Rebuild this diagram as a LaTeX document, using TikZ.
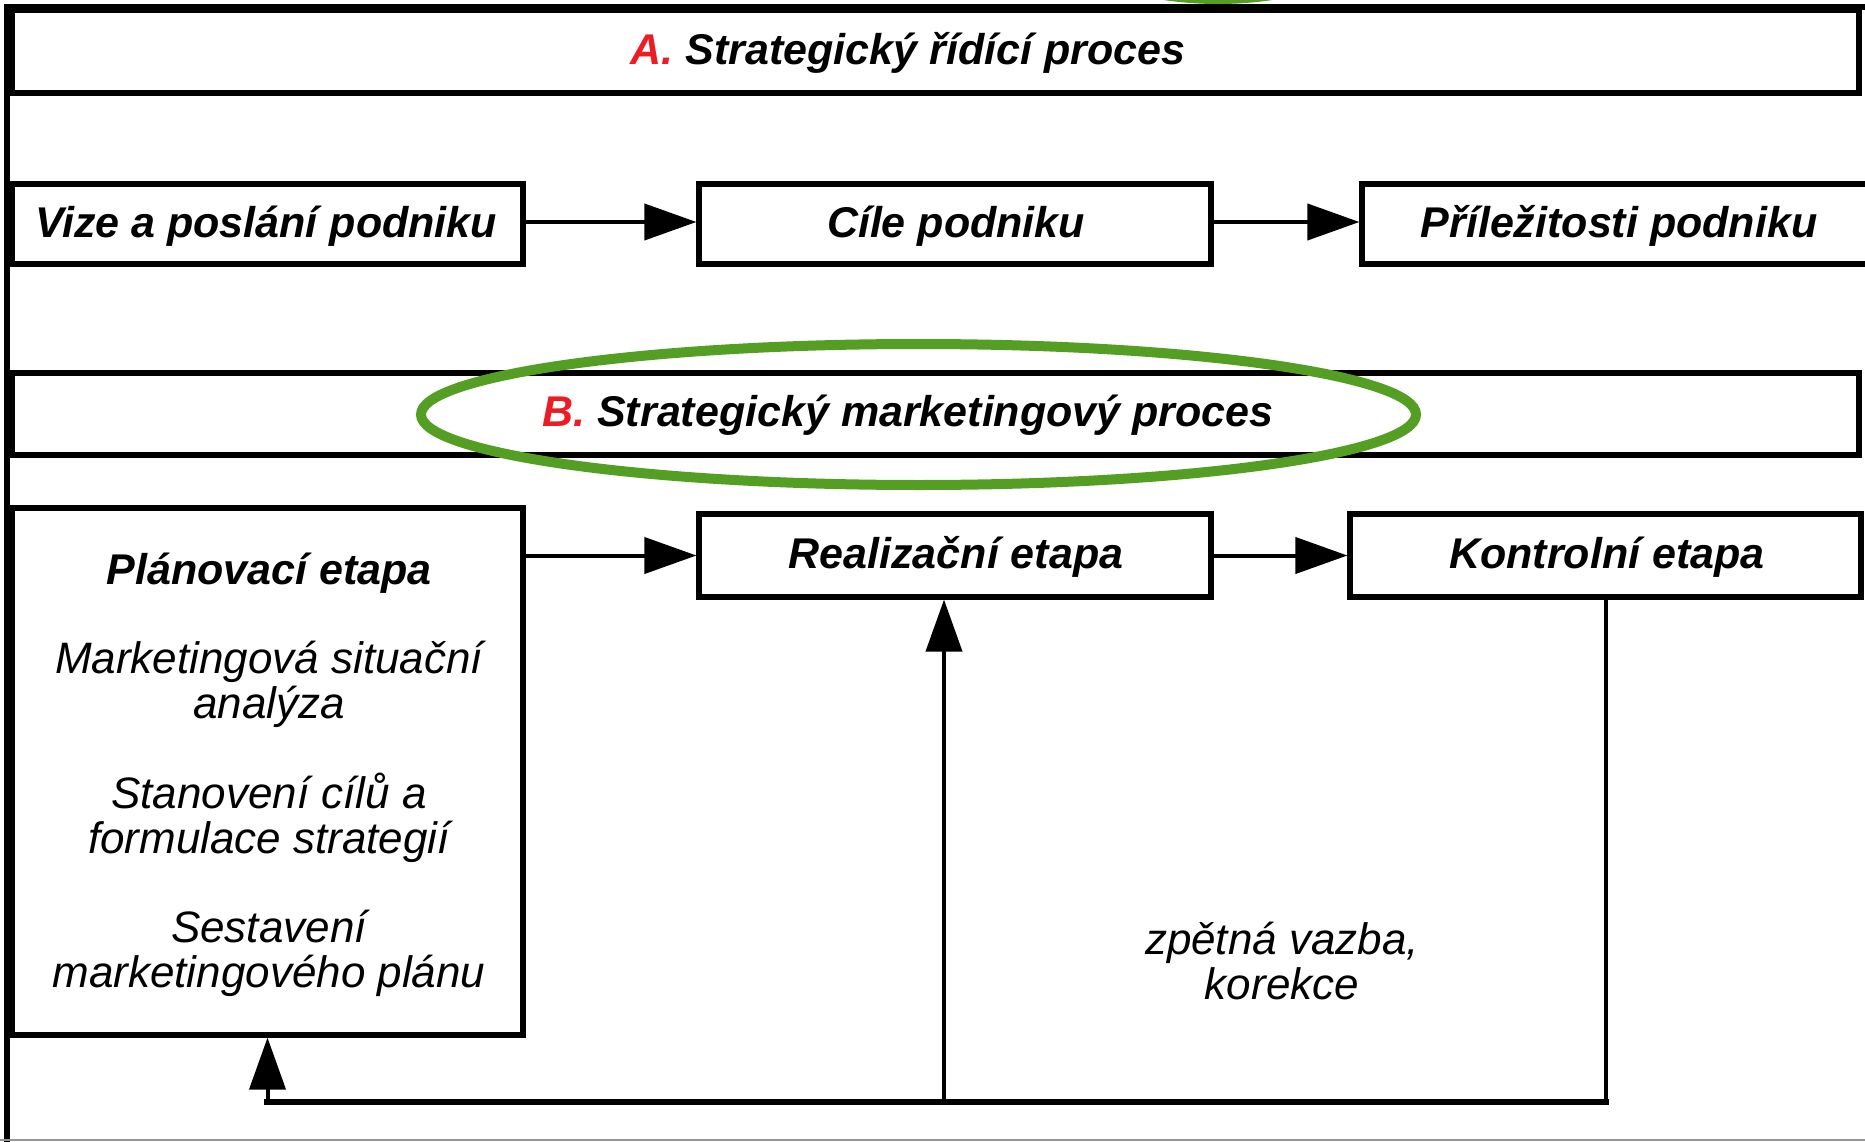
\documentclass[tikz,border=0pt]{standalone}
\usepackage{fontspec}
\setmainfont{Liberation Sans}
\usetikzlibrary{arrows.meta,shapes.geometric}
\definecolor{redA}{RGB}{236,28,36}
\definecolor{ovalgreen}{RGB}{84,158,36}
\definecolor{framegray}{RGB}{150,150,150}
\tikzset{
  procbox/.style={draw=black, line width=5.2pt, rectangle, inner sep=0pt,
    font=\fontsize{43}{45}\selectfont\bfseries\itshape},
  boldtxt/.style={font=\fontsize{43}{45}\selectfont\bfseries\itshape, inner sep=0pt},
  plaintxt/.style={font=\fontsize{44}{45}\selectfont\itshape, align=center, inner sep=0pt},
  flowarrow/.style={line width=4pt, -{Triangle[length=52pt,width=36pt]}},
  fbline/.style={line width=4pt},
  bottomline/.style={line width=6.5pt, line cap=rect},
  ovalmark/.style={draw=ovalgreen, ellipse, line width=10pt, inner sep=0pt}
}
\begin{document}
\begin{tikzpicture}[x=1pt,y=-1pt]
\useasboundingbox (0,0) rectangle (1865,1142);
\fill[white] (0,0) rectangle (1865,1142);
\begin{scope}
\clip (0,0) rectangle (1865,1142);
% green arc peeking in at the top
\draw[ovalgreen, line width=8pt] (1218,-60) ellipse [x radius=150pt, y radius=60pt];
% outer frame
\draw[line width=6pt] (7,1142) -- (7,7) -- (1865,7);
\draw[framegray, line width=2pt] (0,1140) -- (1865,1140);

% A band
\node[procbox, minimum width=1847pt, minimum height=83pt] (boxA) at (935.5,51.5) {};
\node[boldtxt] (titleA) at (908,53) {\textcolor{redA}{A.} Strategický řídící proces};

% row 1
\node[procbox, minimum width=511pt, minimum height=80pt, text depth=0pt, text height=0pt] (vize) at (267.5,224) {};
\node[boldtxt] (vizetxt) at (266,226) {Vize a poslání podniku};
\node[procbox, minimum width=512pt, minimum height=80pt] (cile) at (955,224) {};
\node[boldtxt] (ciletxt) at (956,226) {Cíle podniku};
\node[procbox, minimum width=514pt, minimum height=80pt] (prilez) at (1619,224) {};
\node[boldtxt] (prileztxt) at (1619,226) {Příležitosti podniku};
\draw[flowarrow] (vize.east |- 0,222) -- (cile.west |- 0,222);
\draw[flowarrow] (cile.east |- 0,222) -- (prilez.west |- 0,222);

% B band
\node[procbox, minimum width=1847pt, minimum height=82pt] (boxB) at (935.5,414) {};
\node[boldtxt] (titleB) at (908,415) {\textcolor{redA}{B.} Strategický marketingový proces};
\node[ovalmark, minimum width=995pt, minimum height=141pt] (oval) at (918.5,414.5) {};

% row 2
\node[procbox, minimum width=511pt, minimum height=527pt] (plan) at (267.5,771.5) {};
\node[boldtxt] (plantitle) at (269,573) {Plánovací etapa};
\node[plaintxt] (plan1) at (269,684) {Marketingová situační\\analýza};
\node[plaintxt] (plan2) at (269,818) {Stanovení cílů a\\formulace strategií};
\node[plaintxt] (plan3) at (269,953) {Sestavení\\marketingového plánu};

\node[procbox, minimum width=512pt, minimum height=83pt] (real) at (955,555.5) {};
\node[boldtxt] (realtxt) at (956,557) {Realizační etapa};
\node[procbox, minimum width=511pt, minimum height=83pt] (kontr) at (1605.5,555.5) {};
\node[boldtxt] (kontrtxt) at (1607,557) {Kontrolní etapa};
\draw[flowarrow] (real.west -| plan.east) -- (real.west);
\draw[flowarrow] (real) -- (kontr);

% feedback loop
\coordinate (fbcorner) at (1604,1102);
\coordinate (fbjoin) at (944,1102);
\draw[fbline] (kontr.south) -- (kontr.south |- fbcorner);
\draw[bottomline] (kontr.south |- fbcorner) -- (plan.south |- fbcorner);
\draw[flowarrow] (plan.south |- fbcorner) -- (plan.south);
\draw[flowarrow] (fbjoin) -- (fbjoin |- real.south);
\node[plaintxt] (fbtext) at (1282,961) {zpětná vazba,\\korekce};
\end{scope}
\end{tikzpicture}
\end{document}
